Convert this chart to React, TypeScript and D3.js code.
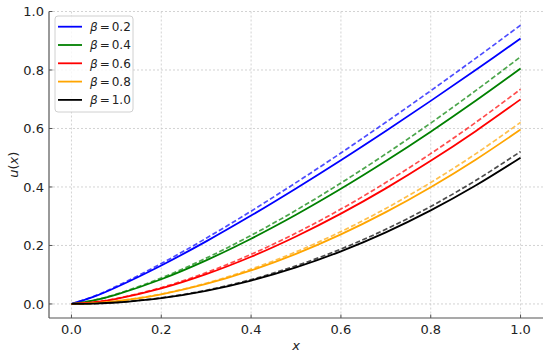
import React from "react";
import * as d3 from "d3";

const xs = [0, 0.05, 0.1, 0.2, 0.3, 0.4, 0.5, 0.6, 0.7, 0.8, 0.9, 1.0];
const betas = ["0.2", "0.4", "0.6", "0.8", "1.0"];
const colors = ["#0000ff", "#008000", "#ff0000", "#ffa500", "#000000"];

const solid02 = [0, 0.0249, 0.0573, 0.1316, 0.214, 0.3022, 0.3951, 0.4916, 0.5916, 0.6944, 0.7999, 0.9076];
const solid04 = [0, 0.0121, 0.032, 0.0846, 0.1492, 0.2232, 0.305, 0.3937, 0.4886, 0.589, 0.6946, 0.805];
const solid06 = [0, 0.0058, 0.0176, 0.0533, 0.1019, 0.1614, 0.2308, 0.3089, 0.3953, 0.4895, 0.5909, 0.6995];
const solid08 = [0, 0.0027, 0.0094, 0.0329, 0.0683, 0.1146, 0.1713, 0.2379, 0.3139, 0.3992, 0.4934, 0.5965];
const solid10 = [0, 0.00125, 0.005, 0.02, 0.045, 0.08, 0.125, 0.18, 0.245, 0.32, 0.405, 0.5];

const dashed02 = [0, 0.0262, 0.0602, 0.1382, 0.2247, 0.3173, 0.4149, 0.5162, 0.6212, 0.7291, 0.8399, 0.953];
const dashed04 = [0, 0.0127, 0.0336, 0.0888, 0.1567, 0.2344, 0.3203, 0.4134, 0.513, 0.6185, 0.7293, 0.845];
const dashed06 = [0, 0.0061, 0.0185, 0.056, 0.107, 0.1695, 0.2423, 0.3243, 0.4151, 0.514, 0.6204, 0.734];
const dashed08 = [0, 0.0028, 0.0098, 0.0342, 0.071, 0.1192, 0.1782, 0.2474, 0.3265, 0.4152, 0.5131, 0.621];
const dashed10 = [0, 0.0013, 0.0052, 0.0208, 0.0469, 0.0834, 0.1303, 0.1876, 0.2553, 0.3334, 0.422, 0.521];

const solids = [solid02, solid04, solid06, solid08, solid10];
const dashes = [dashed02, dashed04, dashed06, dashed08, dashed10];
const xTicks = [0, 0.2, 0.4, 0.6, 0.8, 1.0];
const yTicks = [0, 0.2, 0.4, 0.6, 0.8, 1.0];

export default function App() {
  const W = 550, H = 357;
  const left = 49, right = 543, top = 11.5, bottom = 318;
  const x = d3.scaleLinear().domain([-0.05, 1.05]).range([left, right]);
  const y = d3.scaleLinear().domain([-0.048, 1.0]).range([bottom, top]);
  const line = (vals: number[]) =>
    d3.line<number>().x((_, i) => x(xs[i])).y((v) => y(v)).curve(d3.curveCatmullRom.alpha(0.5))(vals) || "";
  const font = "'DejaVu Sans', sans-serif";
  const legX = 55, legY = 16, legW = 78, legH = 96, rowH = 18.3;
  return (
    <svg width={W} height={H} style={{ position: "absolute", left: 0, top: 0 }} fontFamily={font}>
      <rect x={0} y={0} width={W} height={H} fill="#fff" />
      {xTicks.map((t) => (
        <line key={"gx" + t} x1={x(t)} x2={x(t)} y1={top} y2={bottom} stroke="#c8c8c8" strokeWidth={0.8} strokeDasharray="2,2" />
      ))}
      {yTicks.map((t) => (
        <line key={"gy" + t} x1={left} x2={right} y1={y(t)} y2={y(t)} stroke="#c8c8c8" strokeWidth={0.8} strokeDasharray="2,2" />
      ))}
      {solids.map((s, i) => (
        <path key={"d" + i} d={line(dashes[i])} fill="none" stroke={colors[i]} strokeOpacity={0.7} strokeWidth={1.7} strokeDasharray="5,2.5" />
      ))}
      {solids.map((s, i) => (
        <path key={"s" + i} d={line(s)} fill="none" stroke={colors[i]} strokeWidth={1.8} />
      ))}
      <line x1={left} x2={left} y1={top} y2={bottom} stroke="#555" strokeWidth={1.2} />
      <line x1={left} x2={right} y1={bottom} y2={bottom} stroke="#555" strokeWidth={1.2} />
      {xTicks.map((t) => (
        <g key={"tx" + t}>
          <line x1={x(t)} x2={x(t)} y1={bottom} y2={bottom - 3.5} stroke="#555" strokeWidth={1} />
          <text x={x(t)} y={333.5} textAnchor="middle" fontSize={13} fill="#222">{t.toFixed(1)}</text>
        </g>
      ))}
      {yTicks.map((t) => (
        <g key={"ty" + t}>
          <line x1={left} x2={left + 3.5} y1={y(t)} y2={y(t)} stroke="#555" strokeWidth={1} />
          <text x={44} y={y(t)} dy="0.36em" textAnchor="end" fontSize={13} fill="#222">{t.toFixed(1)}</text>
        </g>
      ))}
      <text x={(left + right) / 2} y={350} textAnchor="middle" fontSize={13} fontStyle="italic" fill="#222">x</text>
      <text transform={`translate(18,${(top + bottom) / 2}) rotate(-90)`} textAnchor="middle" fontSize={13} fill="#222">
        <tspan fontStyle="italic">u</tspan>(<tspan fontStyle="italic">x</tspan>)
      </text>
      <rect x={legX} y={legY} width={legW} height={legH} rx={3} fill="#fff" fillOpacity={0.8} stroke="#d0d0d0" strokeWidth={1} />
      {betas.map((b, i) => (
        <g key={"l" + i}>
          <line x1={58} x2={82} y1={legY + 10.7 + i * rowH} y2={legY + 10.7 + i * rowH} stroke={colors[i]} strokeWidth={1.8} />
          <text x={90} y={legY + 10.7 + i * rowH} dy="0.36em" fontSize={12} fill="#222">
            <tspan fontStyle="italic">β</tspan>
            <tspan dx={2}>=</tspan>
            <tspan dx={2}>{b}</tspan>
          </text>
        </g>
      ))}
    </svg>
  );
}
